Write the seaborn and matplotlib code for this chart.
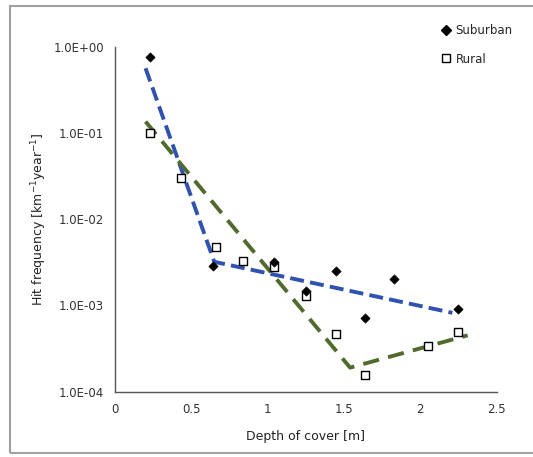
import matplotlib
matplotlib.use("Agg")
import matplotlib.pyplot as plt
import seaborn as sns
import pandas as pd
from matplotlib.patches import Rectangle
from matplotlib.lines import Line2D

# ---- data ----
sub_x = [0.23, 0.64, 1.04, 1.25, 1.45, 1.64, 1.83, 2.25]
sub_y = [0.76, 0.00285, 0.0032, 0.00147, 0.0025, 0.00071, 0.0020, 0.0009]
rur_x = [0.23, 0.43, 0.66, 0.84, 1.04, 1.25, 1.45, 1.64, 2.05, 2.25]
rur_y = [0.10, 0.0296, 0.0047, 0.0033, 0.0028, 0.0013, 0.00047, 0.000155, 0.00034, 0.00049]
fit_sub_x = [0.20, 0.65, 2.21]
fit_sub_y = [0.56, 0.0032, 0.00082]
fit_rur_x = [0.20, 1.54, 2.31]
fit_rur_y = [0.135, 0.00019, 0.00045]
xticks = [0, 0.5, 1, 1.5, 2, 2.5]
xtick_labels = ["0", "0.5", "1", "1.5", "2", "2.5"]
yticks = [1e-4, 1e-3, 1e-2, 1e-1, 1e0]
ytick_labels = ["1.0E-04", "1.0E-03", "1.0E-02", "1.0E-01", "1.0E+00"]

sns.set_theme(style="white")
plt.rcParams["font.family"] = ["DejaVu Sans"]

fig = plt.figure(figsize=(5.33, 4.57), dpi=100)
ax = fig.add_axes([0.2158, 0.1429, 0.716, 0.7553])

# outer chart border (right edge falls outside the image)
fig.patches.append(Rectangle((10 / 533, 1 - 453 / 457), 1.05, (453 - 6) / 457,
                             transform=fig.transFigure, fill=False,
                             edgecolor="#a0a0a0", linewidth=1.5))

df_fs = pd.DataFrame({"x": fit_sub_x, "y": fit_sub_y})
df_fr = pd.DataFrame({"x": fit_rur_x, "y": fit_rur_y})
sns.lineplot(data=df_fs, x="x", y="y", ax=ax, color="#2f52b0", linewidth=2.8,
             linestyle=(0, (3.6, 1.6)), sort=False, zorder=2)
sns.lineplot(data=df_fr, x="x", y="y", ax=ax, color="#4f6a2c", linewidth=2.8,
             linestyle=(0, (4.2, 2.4)), sort=False, zorder=2)

df_s = pd.DataFrame({"x": sub_x, "y": sub_y})
df_r = pd.DataFrame({"x": rur_x, "y": rur_y})
sns.scatterplot(data=df_r, x="x", y="y", ax=ax, marker="s", s=26,
                facecolor="white", edgecolor="black", linewidth=1.0, zorder=3)
sns.scatterplot(data=df_s, x="x", y="y", ax=ax, marker="D", s=22,
                color="black", edgecolor="black", linewidth=0.5, zorder=4)

ax.set_yscale("log")
ax.set_xlim(0, 2.5)
ax.set_ylim(1e-4, 1e0)
ax.set_xticks(xticks)
ax.set_xticklabels(xtick_labels)
ax.set_yticks(yticks)
ax.set_yticklabels(ytick_labels)
ax.minorticks_off()
ax.tick_params(axis="both", labelsize=8.5, colors="#333333", length=3,
               width=0.8, direction="out")
ax.tick_params(axis="y", pad=5)
ax.tick_params(axis="x", pad=5)
for s in ["top", "right"]:
    ax.spines[s].set_visible(False)
for s in ["left", "bottom"]:
    ax.spines[s].set_color("#555555")
    ax.spines[s].set_linewidth(1.0)

ax.set_xlabel("Depth of cover [m]", fontsize=9, color="#222222", labelpad=10)
ax.set_ylabel("Hit frequency [km$^{-1}$year$^{-1}$]", fontsize=9, color="#222222",
              labelpad=3)

handles = [Line2D([], [], marker="D", color="black", linestyle="none", markersize=5),
           Line2D([], [], marker="s", markerfacecolor="white", markeredgecolor="black",
                  linestyle="none", markersize=6)]
ax.legend(handles, ["Suburban", "Rural"], loc="upper left", bbox_to_anchor=(0.824, 1.097),
          frameon=False, fontsize=8.5, handletextpad=0.3, handlelength=1.0,
          labelspacing=1.35)

fig.savefig("out.png", dpi=100)
